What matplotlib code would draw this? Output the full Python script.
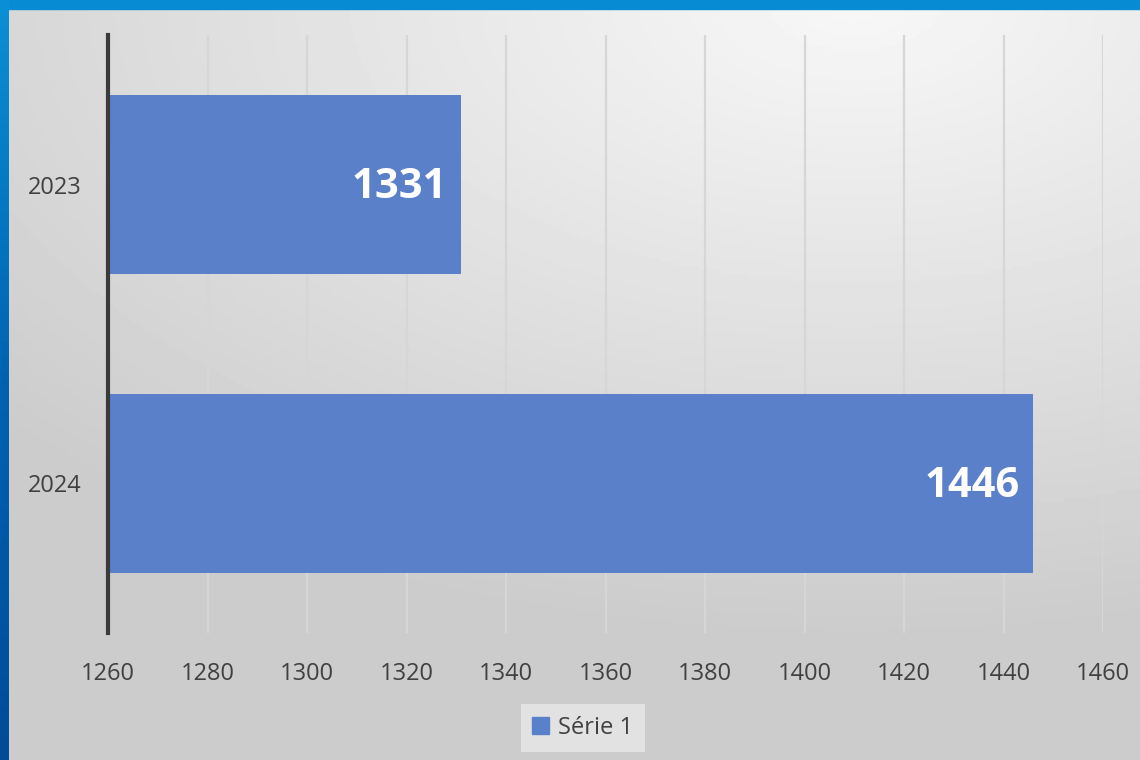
import numpy as np
import matplotlib.pyplot as plt
from matplotlib.patches import Rectangle

years = ['2024', '2023']
values = [1446, 1331]
xticks = [1260, 1280, 1300, 1320, 1340, 1360, 1380, 1400, 1420, 1440, 1460]
series_name = 'Série 1'

bar_color = '#5a80c9'
text_color = '#404040'

plt.rcParams['font.family'] = ['Open Sans', 'DejaVu Sans']

fig = plt.figure(figsize=(11.4, 7.6), dpi=100)

# gray gradient background
bg = fig.add_axes([0, 0, 1, 1], zorder=-10)
yy, xx = np.mgrid[0:1:200j, 0:1:300j]
dist = np.sqrt(((xx - 0.75) * 1.0) ** 2 + ((yy - 0.0) * 1.2) ** 2)
bg.imshow(0.97 - 0.17 * np.clip(dist, 0, 1), cmap='gray', vmin=0, vmax=1,
          extent=[0, 1, 0, 1], origin='upper', aspect='auto')
bg.set_xlim(0, 1)
bg.set_ylim(0, 1)
bg.axis('off')

# blue frame on top and left
fig.patches.append(Rectangle((0, 1 - 9 / 760), 1, 9 / 760, transform=fig.transFigure,
                             color='#078cd3', zorder=5))
left_strip = np.linspace(0, 1, 100).reshape(-1, 1)
fa = fig.add_axes([0, 0, 9 / 1140, 1], zorder=6)
fa.imshow(left_strip, cmap=plt.matplotlib.colors.LinearSegmentedColormap.from_list(
    'b', ['#0a8fd6', '#0063b0', '#004c99']), aspect='auto', extent=[0, 1, 0, 1])
fa.axis('off')

ax = fig.add_axes([108 / 1140, 1 - 633 / 760, (1103 - 108) / 1140, (633 - 35) / 760])
ax.patch.set_alpha(0)

ypos = np.arange(len(years))
ax.barh(ypos, [v - xticks[0] for v in values], left=xticks[0], height=0.6,
        color=bar_color, zorder=3)
for y, v in zip(ypos, values):
    ax.text(v - 14 * (xticks[-1] - xticks[0]) / 995, y - 0.01, str(v), ha='right', va='center',
            color='white', fontsize=30, fontweight='bold', zorder=4)

ax.set_xlim(xticks[0], xticks[-1])
ax.set_ylim(-0.5, 1.5)
ax.set_xticks(xticks)
ax.set_yticks(ypos)
ax.set_yticklabels(years)
ax.tick_params(axis='both', length=0, labelsize=17, labelcolor=text_color)
ax.tick_params(axis='x', pad=21)
ax.tick_params(axis='y', pad=19)
ax.grid(axis='x', color='#d6d6d6', linewidth=1.6, zorder=1)
for s in ['top', 'right', 'bottom']:
    ax.spines[s].set_visible(False)
ax.spines['left'].set_color('#3a3a3a')
ax.spines['left'].set_linewidth(3)
ax.spines['left'].set_zorder(5)

leg = ax.legend([Rectangle((0, 0), 1, 1, color=bar_color)], [series_name],
                loc='center', bbox_to_anchor=(583 / 1140, 1 - 728 / 760),
                bbox_transform=fig.transFigure, fontsize=17, frameon=True,
                fancybox=False, handlelength=0.7, handleheight=0.7, handletextpad=0.4,
                borderpad=0.5)
leg.get_frame().set_facecolor('#e2e2e2')
leg.get_frame().set_edgecolor('none')
leg.get_frame().set_alpha(1)
for t in leg.get_texts():
    t.set_color(text_color)

fig.savefig('out.png', dpi=100)
